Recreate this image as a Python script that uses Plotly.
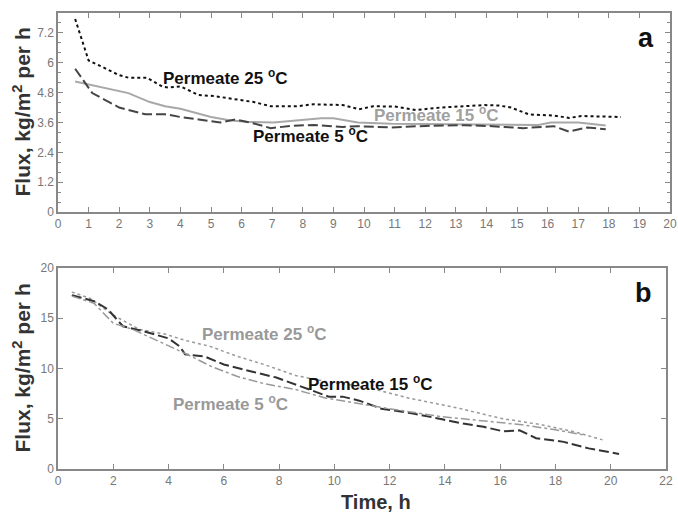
import plotly.graph_objects as go

# ---- Panel a data ----
a25_x = [0.56, 1.0, 1.5, 2.0, 2.3, 2.9, 3.4, 3.6, 4.0, 4.4, 4.6, 5.1, 5.9, 6.4, 6.95, 7.8, 8.35, 8.8, 9.3, 9.84, 10.3, 11.0, 11.7, 12.5, 13.3, 13.95, 14.4, 14.8, 15.4, 16.2, 16.7, 17.1, 17.7, 18.4]
a25_y = [7.76, 6.09, 5.8, 5.5, 5.4, 5.4, 5.05, 5.0, 5.05, 4.8, 4.7, 4.66, 4.52, 4.42, 4.25, 4.25, 4.33, 4.32, 4.3, 4.13, 4.25, 4.24, 4.1, 4.2, 4.25, 4.3, 4.28, 4.2, 3.92, 3.88, 3.78, 3.86, 3.84, 3.82]

a15_x = [0.56, 1.0, 2.0, 2.3, 3.0, 3.5, 4.0, 5.0, 5.6, 6.2, 7.05, 7.8, 8.6, 9.0, 9.8, 10.9, 12.0, 13.1, 14.0, 14.8, 15.7, 16.1, 17.0, 17.9]
a15_y = [5.25, 5.13, 4.86, 4.78, 4.42, 4.25, 4.15, 3.82, 3.69, 3.62, 3.6, 3.69, 3.77, 3.77, 3.6, 3.55, 3.54, 3.52, 3.52, 3.5, 3.5, 3.6, 3.6, 3.48]

a5_x = [0.56, 1.12, 2.0, 2.85, 3.5, 4.0, 4.6, 5.3, 5.8, 6.4, 6.95, 7.6, 8.35, 9.3, 9.8, 10.9, 12.0, 13.3, 14.2, 15.2, 16.2, 16.7, 17.3, 17.9]
a5_y = [5.76, 4.78, 4.2, 3.93, 3.93, 3.82, 3.72, 3.6, 3.72, 3.56, 3.37, 3.46, 3.5, 3.42, 3.45, 3.4, 3.46, 3.49, 3.45, 3.37, 3.45, 3.23, 3.4, 3.33]

# ---- Panel b data ----
b25_x = [0.5, 1.15, 2.0, 2.94, 3.9, 4.6, 5.5, 6.5, 7.45, 8.6, 9.7, 10.5, 11.5, 12.7, 14.5, 16.0, 17.5, 18.7, 19.7]
b25_y = [17.6, 17.0, 15.3, 13.9, 13.4, 12.8, 12.2, 11.2, 10.4, 9.3, 8.7, 8.4, 7.9, 7.05, 6.05, 5.05, 4.4, 3.7, 2.9]

b15_x = [0.5, 1.3, 1.8, 2.35, 3.1, 4.0, 4.4, 4.6, 5.3, 6.0, 7.0, 7.9, 9.1, 9.8, 10.3, 10.9, 11.7, 12.8, 13.9, 14.5, 15.4, 16.1, 16.7, 17.3, 18.3, 19.2, 20.3]
b15_y = [17.3, 16.7, 15.9, 14.2, 13.7, 13.0, 12.2, 11.4, 11.2, 10.4, 9.7, 9.1, 7.9, 7.2, 7.2, 6.8, 6.0, 5.55, 4.95, 4.6, 4.2, 3.75, 3.85, 3.06, 2.7, 2.05, 1.5]

b5_x = [0.5, 1.3, 2.0, 2.7, 3.65, 4.6, 5.55, 6.5, 7.45, 8.6, 9.7, 10.9, 12.1, 13.9, 15.6, 16.8, 18.0, 19.0]
b5_y = [17.2, 16.5, 14.5, 13.9, 12.7, 11.5, 10.2, 9.2, 8.5, 7.9, 7.05, 6.5, 5.95, 5.2, 4.7, 4.4, 3.9, 3.4]

a_xticks = list(range(0, 21))
a_yticks = [0, 1.2, 2.4, 3.6, 4.8, 6, 7.2]
b_xticks = list(range(0, 23, 2))
b_yticks = [0, 5, 10, 15, 20]

fig = go.Figure()
fig.add_trace(go.Scatter(x=a25_x, y=a25_y, mode="lines", line=dict(color="#111111", width=2, dash="dot"), xaxis="x", yaxis="y"))
fig.add_trace(go.Scatter(x=a15_x, y=a15_y, mode="lines", line=dict(color="#a8a8a8", width=2), xaxis="x", yaxis="y"))
fig.add_trace(go.Scatter(x=a5_x, y=a5_y, mode="lines", line=dict(color="#444444", width=2, dash="10px,4px"), xaxis="x", yaxis="y"))

fig.add_trace(go.Scatter(x=b25_x, y=b25_y, mode="lines", line=dict(color="#999999", width=1.5, dash="dot"), xaxis="x2", yaxis="y2"))
fig.add_trace(go.Scatter(x=b15_x, y=b15_y, mode="lines", line=dict(color="#333333", width=2, dash="10px,4px"), xaxis="x2", yaxis="y2"))
fig.add_trace(go.Scatter(x=b5_x, y=b5_y, mode="lines", line=dict(color="#999999", width=1.5, dash="dashdot"), xaxis="x2", yaxis="y2"))

tickfont = dict(family="Liberation Sans, Arial", size=12, color="#777777")
axcommon = dict(showgrid=False, zeroline=False, showline=True, linecolor="#888888", linewidth=1.5,
                mirror="ticks", ticks="inside", ticklen=5, tickcolor="#888888", tickfont=tickfont)

fig.update_layout(
    width=678, height=516,
    margin=dict(l=58, r=1, t=13, b=47),
    paper_bgcolor="white", plot_bgcolor="white",
    showlegend=False,
    xaxis=dict(domain=[0, 1], range=[0, 20], tickvals=a_xticks, anchor="y", **axcommon),
    yaxis=dict(domain=[0.5636, 1], range=[0, 8], tickvals=a_yticks, anchor="x",
               minor=dict(dtick=0.4, ticks="inside", ticklen=3, tickcolor="#888888"), **axcommon),
    xaxis2=dict(domain=[0, 0.9935], range=[0, 22], tickvals=b_xticks, anchor="y2", **axcommon),
    yaxis2=dict(domain=[0, 0.4408], range=[0, 20], tickvals=b_yticks, anchor="x2", **axcommon),
)

def ann(x, y, text, xref, yref, color, size=17):
    fig.add_annotation(x=x, y=y, xref=xref, yref=yref, text=text, showarrow=False,
                       font=dict(family="Liberation Sans, Arial", size=size, color=color))

deg = " <sup>o</sup>C"
ann(5.45, 5.41, "<b>Permeate 25" + deg + "</b>", "x", "y", "#111111")
ann(12.34, 3.93, "<b>Permeate 15" + deg + "</b>", "x", "y", "#a0a0a0")
ann(8.26, 3.09, "<b>Permeate 5" + deg + "</b>", "x", "y", "#111111")
ann(19.23, 7.0, "<b>a</b>", "x", "y", "#111111", 27)

ann(7.46, 13.56, "<b>Permeate 25" + deg + "</b>", "x2", "y2", "#999999")
ann(11.28, 8.57, "<b>Permeate 15" + deg + "</b>", "x2", "y2", "#111111")
ann(6.25, 6.58, "<b>Permeate 5" + deg + "</b>", "x2", "y2", "#999999")
ann(21.2, 17.5, "<b>b</b>", "x2", "y2", "#111111", 27)

for yc in [0.7818, 0.2204]:
    fig.add_annotation(x=0, y=yc, xref="paper", yref="paper", xshift=-36, text="<b>Flux, kg/m<sup>2</sup> per h</b>",
                       textangle=-90, showarrow=False, xanchor="center", yanchor="middle",
                       font=dict(family="Liberation Sans, Arial", size=21, color="#333333"))
fig.add_annotation(x=0.52, y=0, xref="paper", yref="paper", yshift=-33, text="<b>Time, h</b>", showarrow=False,
                   xanchor="center", yanchor="middle",
                   font=dict(family="Liberation Sans, Arial", size=20, color="#333333"))

fig.write_html("out.html", config={"displayModeBar": False},
               post_script="document.body.style.margin='0';document.body.style.overflow='hidden';")
